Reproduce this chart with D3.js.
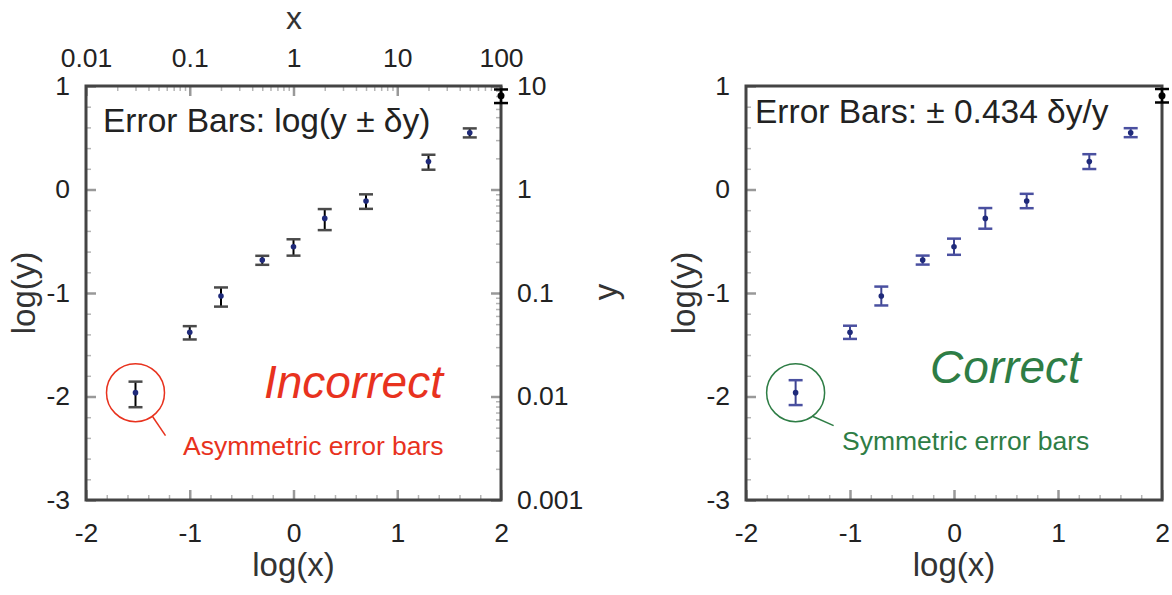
<!DOCTYPE html>
<html>
<head>
<meta charset="utf-8">
<script src="https://cdn.jsdelivr.net/npm/d3@7"></script>
<style>
  body { margin: 0; background: #fff; }
  svg { font-family: "Liberation Sans", Arial, sans-serif; }
  .tick text { fill: #222; }
</style>
</head>
<body>
<div id="root"></div>
<script>
// data
const xVals = [0.03, 0.1, 0.2, 0.5, 1, 2, 5, 20, 50, 100];
const yVals = [0.0109, 0.0417, 0.0935, 0.208, 0.28, 0.526, 0.774, 1.86, 3.54, 8.05];
const relErr = [0.277, 0.147, 0.21, 0.1, 0.18, 0.23, 0.16, 0.165, 0.1, 0.15]; // dy/y
const logXTicks = [-2, -1, 0, 1, 2];
const logYTicks = [-3, -2, -1, 0, 1];
const xTopTicks = [0.01, 0.1, 1, 10, 100];
const yRightTicks = [0.001, 0.01, 0.1, 1, 10];

const W = 1172, H = 595;
const svg = d3.select('#root').append('svg').attr('width', W).attr('height', H);
svg.append('rect').attr('width', W).attr('height', H).attr('fill', '#fff');

const points = xVals.map((x, i) => ({
  lx: Math.log10(x),
  ly: Math.log10(yVals[i]),
  up: Math.log10(yVals[i] * (1 + relErr[i])),
  lo: Math.log10(yVals[i] * (1 - relErr[i])),
  sym: 0.434 * relErr[i],
  last: i === xVals.length - 1
}));

function minorRange(a, b, step, majors) {
  return d3.range(a, b + 1e-9, step).map(v => +v.toFixed(3)).filter(v => !majors.includes(v));
}
function logMinor(lo, hi) {
  let out = [];
  for (let e = Math.log10(lo); e < Math.log10(hi); e++) {
    for (let k = 2; k <= 9; k++) out.push(k * Math.pow(10, e));
  }
  return out;
}

function styleAxis(g, major) {
  g.select('.domain').remove();
  g.selectAll('.tick line')
    .attr('stroke', major ? '#999' : '#b5b5b5')
    .attr('stroke-width', major ? 2.5 : 1.5);
  g.selectAll('.tick text').attr('font-size', 26.5);
}

const plain = d => String(d);

function panel(x0, x1, opts) {
  const y0 = 86, y1 = 500;
  const x = d3.scaleLinear().domain([-2, 2]).range([x0, x1]);
  const y = d3.scaleLinear().domain([-3, 1]).range([y1, y0]);
  const g = svg.append('g');

  // minor ticks
  g.append('g').attr('transform', `translate(0,${y1})`)
    .call(d3.axisBottom(x).tickValues(minorRange(-2, 2, 0.2, logXTicks)).tickSize(-5).tickFormat(''))
    .call(a => styleAxis(a, false));
  g.append('g').attr('transform', `translate(${x0},0)`)
    .call(d3.axisLeft(y).tickValues(minorRange(-3, 1, 0.2, logYTicks)).tickSize(-5).tickFormat(''))
    .call(a => styleAxis(a, false));
  // major ticks
  g.append('g').attr('transform', `translate(0,${y1})`)
    .call(d3.axisBottom(x).tickValues(logXTicks).tickSize(-10).tickPadding(23).tickFormat(plain))
    .call(a => styleAxis(a, true));
  g.append('g').attr('transform', `translate(${x0},0)`)
    .call(d3.axisLeft(y).tickValues(logYTicks).tickSize(-10).tickPadding(16).tickFormat(plain))
    .call(a => styleAxis(a, true));

  if (opts.dual) {
    const xt = d3.scaleLog().domain([0.01, 100]).range([x0, x1]);
    const yr = d3.scaleLog().domain([0.001, 10]).range([y1, y0]);
    g.append('g').attr('transform', `translate(0,${y0})`)
      .call(d3.axisTop(xt).tickValues(logMinor(0.01, 100)).tickSize(-5).tickFormat(''))
      .call(a => styleAxis(a, false));
    g.append('g').attr('transform', `translate(${x1},0)`)
      .call(d3.axisRight(yr).tickValues(logMinor(0.001, 10)).tickSize(-5).tickFormat(''))
      .call(a => styleAxis(a, false));
    g.append('g').attr('transform', `translate(0,${y0})`)
      .call(d3.axisTop(xt).tickValues(xTopTicks).tickSize(-10).tickPadding(19).tickFormat(plain))
      .call(a => styleAxis(a, true));
    g.append('g').attr('transform', `translate(${x1},0)`)
      .call(d3.axisRight(yr).tickValues(yRightTicks).tickSize(-10).tickPadding(16).tickFormat(plain))
      .call(a => styleAxis(a, true));
  }

  // frame
  g.append('rect').attr('x', x0).attr('y', y0).attr('width', x1 - x0).attr('height', y1 - y0)
    .attr('fill', 'none').attr('stroke', '#444').attr('stroke-width', 3);

  // error bars
  const capW = 7;
  const bars = g.append('g').selectAll('g').data(points).join('g');
  const top = d => opts.dual ? d.up : d.ly + d.sym;
  const bot = d => opts.dual ? d.lo : d.ly - d.sym;
  const barCol = d => d.last ? '#000' : opts.barColor;
  bars.append('line')
    .attr('x1', d => x(d.lx)).attr('x2', d => x(d.lx))
    .attr('y1', d => y(top(d))).attr('y2', d => y(bot(d)))
    .attr('stroke', barCol).attr('stroke-width', 2);
  [top, bot].forEach(f => {
    bars.append('line')
      .attr('x1', d => x(d.lx) - capW).attr('x2', d => x(d.lx) + capW)
      .attr('y1', d => y(f(d))).attr('y2', d => y(f(d)))
      .attr('stroke', d => d.last ? '#000' : opts.capColor).attr('stroke-width', 2.5);
  });
  bars.append('circle')
    .attr('cx', d => x(d.lx)).attr('cy', d => y(d.ly)).attr('r', d => d.last ? 3.5 : 2.8)
    .attr('fill', d => d.last ? '#000' : '#1f2a7a');

  // axis titles
  g.append('text').attr('x', (x0 + x1) / 2).attr('y', 576).attr('text-anchor', 'middle')
    .attr('font-size', 33).attr('fill', '#333').text('log(x)');
  g.append('text').attr('transform', `translate(${x0 - 51},293) rotate(-90)`).attr('text-anchor', 'middle')
    .attr('font-size', 33).attr('fill', '#333').text('log(y)');

  // annotation
  const p0 = points[0];
  const cx = x(p0.lx), cy = y(p0.ly);
  g.append('circle').attr('cx', cx).attr('cy', cy).attr('r', 29)
    .attr('fill', 'none').attr('stroke', opts.noteColor).attr('stroke-width', 1.5);
  g.append('line')
    .attr('x1', cx + 29 * Math.cos(0.95)).attr('y1', cy + 29 * Math.sin(0.95))
    .attr('x2', cx + opts.lineEnd[0]).attr('y2', cy + opts.lineEnd[1])
    .attr('stroke', opts.noteColor).attr('stroke-width', 1.5);
  g.append('text').attr('x', x0 + opts.note[0]).attr('y', opts.note[1])
    .attr('font-size', 26.5).attr('fill', opts.noteColor).text(opts.noteText);
  g.append('text').attr('x', x0 + opts.big[0]).attr('y', opts.big[1])
    .attr('font-size', 46).attr('font-style', 'italic').attr('fill', opts.noteColor).text(opts.bigText);
  g.append('text').attr('x', x0 + opts.head[0]).attr('y', opts.head[1])
    .attr('font-size', 33.5).attr('fill', '#222').text(opts.headText);

  return g;
}

panel(86, 501, {
  dual: true, barColor: '#000', capColor: '#4a4a4a', noteColor: '#e8321e',
  lineEnd: [30, 43], note: [97, 455], noteText: 'Asymmetric error bars',
  big: [178, 398], bigText: 'Incorrect',
  head: [17, 132], headText: 'Error Bars: log(y \u00b1 \u03b4y)'
});
panel(746, 1162, {
  dual: false, barColor: '#3c4290', capColor: '#4a50a0', noteColor: '#2e7d45',
  lineEnd: [38, 33], note: [96, 450], noteText: 'Symmetric error bars',
  big: [184, 383], bigText: 'Correct',
  head: [9, 123], headText: 'Error Bars: \u00b1 0.434 \u03b4y/y'
});

// outer titles of the left panel
svg.append('text').attr('x', 294).attr('y', 29).attr('text-anchor', 'middle')
  .attr('font-size', 32).attr('fill', '#333').text('x');
svg.append('text').attr('transform', 'translate(617,292) rotate(-90)').attr('text-anchor', 'middle')
  .attr('font-size', 33).attr('fill', '#333').text('y');
</script>
</body>
</html>
